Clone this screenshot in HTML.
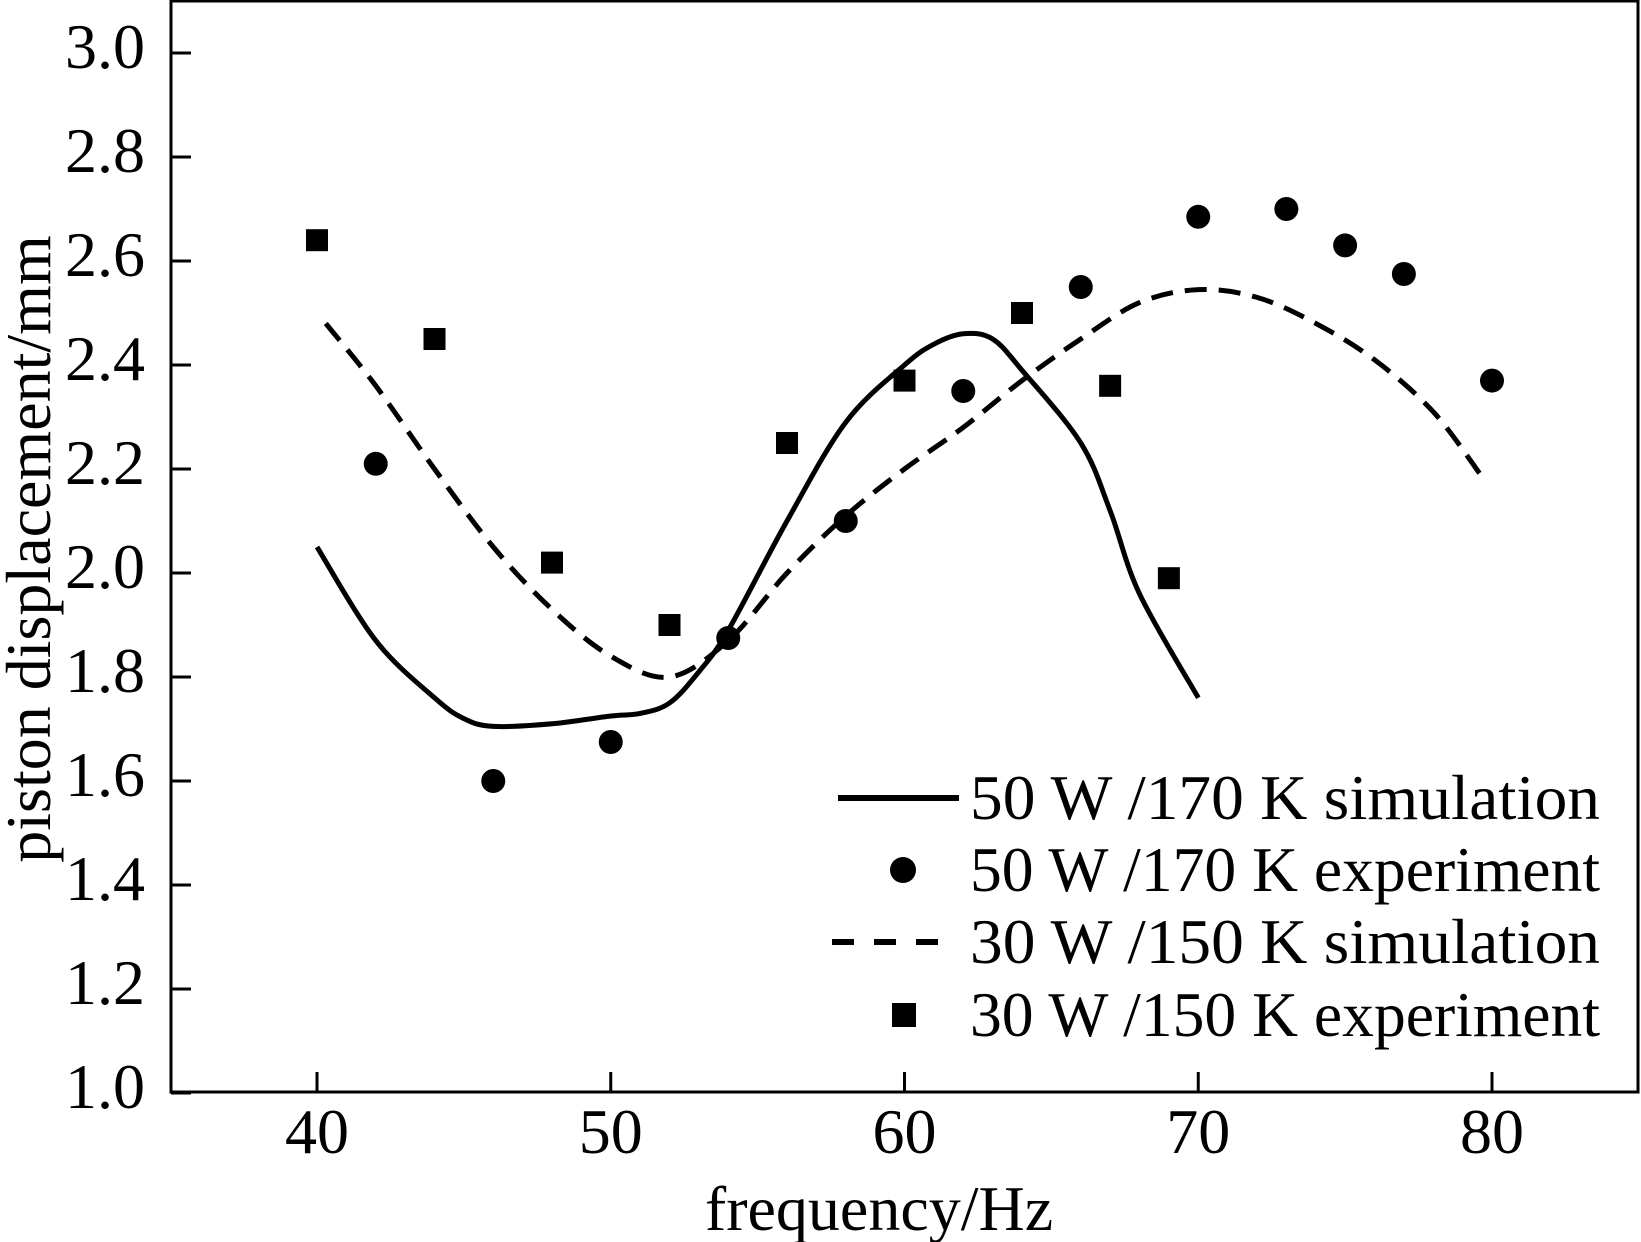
<!DOCTYPE html>
<html><head><meta charset="utf-8"><style>
html,body{margin:0;padding:0;background:#fff;}
svg{display:block;font-family:"Liberation Serif",serif;}
</style></head><body>
<svg id="chart" width="1641" height="1242">
<g id="axes"></g><g id="marks"></g><g id="legend"></g>
</svg>
<script>
const xTicks=[40,50,60,70,80];
const yTicks=[1.0,1.2,1.4,1.6,1.8,2.0,2.2,2.4,2.6,2.8,3.0];
const solidX=[40,42,44,45,46,48,50,51,52,53,54,56,58,60,61,62,63,64,66,67,68,70];
const solidY=[2.05,1.87,1.76,1.72,1.705,1.71,1.725,1.73,1.75,1.81,1.89,2.10,2.29,2.40,2.44,2.46,2.45,2.39,2.25,2.12,1.96,1.76];
const dashX=[40.3,42,44,46,48,50,52,54,56,58,60,62,64,66,68,70,72,74,76,78,79.6];
const dashY=[2.48,2.36,2.20,2.05,1.93,1.84,1.80,1.87,2.00,2.11,2.20,2.28,2.37,2.45,2.52,2.545,2.53,2.48,2.41,2.31,2.19];
const circX=[42,46,50,54,58,62,66,70,73,75,77,80];
const circY=[2.21,1.60,1.675,1.875,2.10,2.35,2.55,2.685,2.70,2.63,2.575,2.37];
const sqX=[40,44,48,52,56,60,64,67,69];
const sqY=[2.64,2.45,2.02,1.90,2.25,2.37,2.50,2.36,1.99];
const legendLabels=["50 W /170 K simulation","50 W /170 K experiment","30 W /150 K simulation","30 W /150 K experiment"];

const NS="http://www.w3.org/2000/svg";
const L=171,R=1638,T=1,B=1092;
const sx=v=>317+(v-40)*(1492-317)/40;
const sy=v=>1093-(v-1.0)*(1093-53)/2.0;
function mk(p,t,a){const e=document.createElementNS(NS,t);for(const k in a)e.setAttribute(k,a[k]);p.appendChild(e);return e;}
const axes=document.getElementById('axes'),marks=document.getElementById('marks'),leg=document.getElementById('legend');

const frame=mk(axes,'rect',{x:L,y:T,width:R-L,height:B-T,fill:'none',stroke:'#000','stroke-width':3});


xTicks.forEach(v=>{
  const t=mk(axes,'line',{x1:sx(v),x2:sx(v),y1:B,y2:B-20,stroke:'#000','stroke-width':3});
  
  
  const s=mk(axes,'text',{x:sx(v),y:1153,'font-size':64,'text-anchor':'middle'});s.textContent=v;
  
  
});
yTicks.forEach(v=>{
  const t=mk(axes,'line',{x1:L,x2:L+20,y1:sy(v),y2:sy(v),stroke:'#000','stroke-width':3});
  
  
  const s=mk(axes,'text',{x:145,y:sy(v)+15,'font-size':64,'text-anchor':'end'});s.textContent=v.toFixed(1);
  
  
});
const xt=mk(axes,'text',{x:879,y:1230,'font-size':64,'text-anchor':'middle'});xt.textContent='frequency/Hz';


const yt=mk(axes,'text',{x:0,y:0,'font-size':64,'text-anchor':'middle',transform:'translate(50,549) rotate(-90)'});yt.textContent='piston displacement/mm';



function path(xs,ys){
  const p=xs.map((x,i)=>[sx(x),sy(ys[i])]);
  let d='M'+p[0][0].toFixed(1)+','+p[0][1].toFixed(1);
  for(let i=0;i<p.length-1;i++){
    const p0=p[Math.max(0,i-1)],p1=p[i],p2=p[i+1],p3=p[Math.min(p.length-1,i+2)];
    const c1=[p1[0]+(p2[0]-p0[0])/6,p1[1]+(p2[1]-p0[1])/6];
    const c2=[p2[0]-(p3[0]-p1[0])/6,p2[1]-(p3[1]-p1[1])/6];
    d+=' C'+c1.map(v=>v.toFixed(1)).join(',')+' '+c2.map(v=>v.toFixed(1)).join(',')+' '+p2.map(v=>v.toFixed(1)).join(',');
  }
  return d;
}
const s1=mk(marks,'path',{d:path(solidX,solidY),fill:'none',stroke:'#000','stroke-width':5,'stroke-linejoin':'round'});


const s2=mk(marks,'path',{d:path(dashX,dashY),fill:'none',stroke:'#000','stroke-width':5,'stroke-dasharray':'22 12'});


circX.forEach((x,i)=>{
  const c=mk(marks,'circle',{cx:sx(x),cy:sy(circY[i]),r:12,fill:'#000'});
  
  
});
sqX.forEach((x,i)=>{
  const c=mk(marks,'rect',{x:sx(x)-11,y:sy(sqY[i])-11,width:22,height:22,fill:'#000'});
  
  
});

const rowsY=[798,870,942,1015];
let e;
e=mk(leg,'line',{x1:838,x2:959,y1:rowsY[0],y2:rowsY[0],stroke:'#000','stroke-width':6});


e=mk(leg,'circle',{cx:903,cy:rowsY[1],r:13,fill:'#000'});


e=mk(leg,'line',{x1:832,x2:952,y1:rowsY[2],y2:rowsY[2],stroke:'#000','stroke-width':6,'stroke-dasharray':'22 20'});


e=mk(leg,'rect',{x:892,y:rowsY[3]-12,width:24,height:24,fill:'#000'});


legendLabels.forEach((s,i)=>{
  const t=mk(leg,'text',{x:970,y:rowsY[i]+21,'font-size':64,textLength:630,lengthAdjust:'spacingAndGlyphs'});t.textContent=s;
  
  
});
</script>
</body></html>
